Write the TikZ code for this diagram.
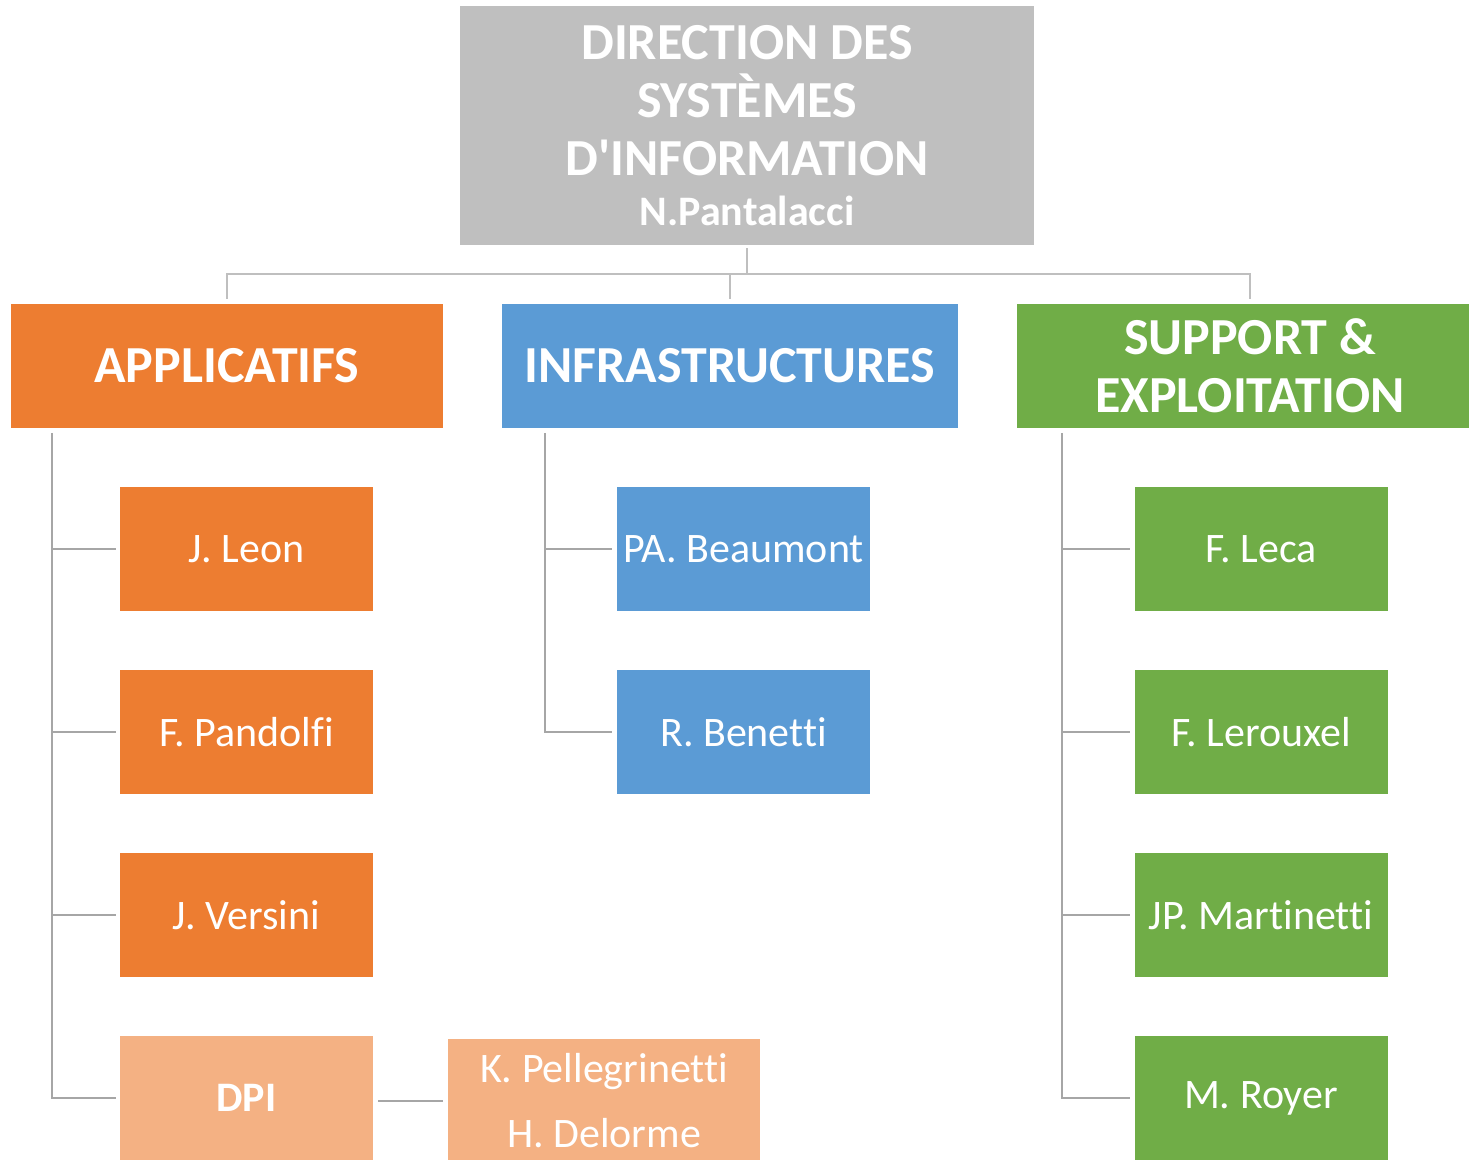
\documentclass[tikz,border=0pt]{standalone}
\usepackage{fontspec}
\setmainfont[Ligatures={TeX,NoCommon}]{Carlito}
\usetikzlibrary{positioning}
\definecolor{dsigray}{HTML}{BFBFBF}
\definecolor{apporange}{HTML}{ED7D31}
\definecolor{dpiorange}{HTML}{F4B183}
\definecolor{infrablue}{HTML}{5B9BD5}
\definecolor{supgreen}{HTML}{70AD47}
\definecolor{linkgray}{HTML}{A6A6A6}
\newcommand{\headfont}{\bfseries\fontsize{26}{29}\selectfont}
\newcommand{\namefont}{\fontsize{21}{25}\selectfont}

\begin{document}
\begin{tikzpicture}[x=0.5pt,y=-0.5pt,
	box/.style={fill=#1, text=white, inner sep=0pt, align=center},
	head/.style={box=#1, minimum height=62pt, font=\headfont},
	person/.style={box=#1, minimum width=126.5pt, minimum height=62pt, font=\namefont},
	topline/.style={draw=dsigray, line width=0.7pt},
	stem/.style={draw=linkgray, line width=1.1pt}]
\useasboundingbox (0,0) rectangle (1469,1160);
% direction
\node[box=dsigray, minimum width=287pt, minimum height=119.5pt, font=\headfont] (dsi) at (747,125.5)
	{DIRECTION DES\\SYSTÈMES\\D\textquotesingle INFORMATION\\[-4pt]{\namefont\bfseries N.Pantalacci}};
% poles
\node[head=apporange, minimum width=216pt] (app) at (227,366) {APPLICATIFS};
\node[head=infrablue, minimum width=228pt] (infra) at (730,366) {INFRASTRUCTURES};
\node[head=supgreen, minimum width=233pt] (sup) at (1250,366) {SUPPORT \&\\EXPLOITATION};
\coordinate (bus) at (747,274);
\draw[topline, shorten <=1.5pt] (dsi.south) -- (bus);
\draw[topline, shorten <=2.5pt] (app.north) |- (bus);
\draw[topline, shorten <=2.5pt] (sup.north) |- (bus);
\draw[topline, shorten <=2.5pt] (infra.north) -- (infra.north |- bus);
% applicatifs
\coordinate (appstem) at (52,433);
\foreach \name/\who/\y in {leon/J. Leon/549, pandolfi/F. Pandolfi/732, versini/J. Versini/915}{
	\node[person=apporange] (\name) at (246.5,\y) {\who};
	\draw[stem, shorten >=2pt] (appstem |- \name.west) -- (\name.west);
}
\node[person=dpiorange, font=\namefont\bfseries] (dpi) at (246.5,1098) {DPI};
\draw[stem, shorten >=2pt] (appstem) |- (dpi.west);
\node[box=dpiorange, minimum width=156pt, minimum height=62pt, font=\fontsize{21}{32.5}\selectfont] (dpiteam) at (604,1101)
	{K. Pellegrinetti\\H. Delorme};
\draw[stem, shorten <=2.5pt, shorten >=2.5pt] (dpi.east |- dpiteam.west) -- (dpiteam.west);
% infrastructures
\coordinate (infrastem) at (545,433);
\foreach \name/\who/\y in {beaumont/PA. Beaumont/549, benetti/R. Benetti/732}{
	\node[person=infrablue] (\name) at (743.5,\y) {\who};
}
\draw[stem, shorten >=2.5pt] (infrastem) |- (benetti.west);
\draw[stem, shorten >=2.5pt] (infrastem |- beaumont.west) -- (beaumont.west);
% support et exploitation
\coordinate (supstem) at (1062,433);
\foreach \name/\who/\y in {leca/F. Leca/549, lerouxel/F. Lerouxel/732, martinetti/JP. Martinetti/915}{
	\node[person=supgreen] (\name) at (1261,\y) {\who};
	\draw[stem, shorten >=2pt] (supstem |- \name.west) -- (\name.west);
}
\node[person=supgreen] (royer) at (1261,1098) {M. Royer};
\draw[stem, shorten >=2pt] (supstem) |- (royer.west);
\end{tikzpicture}
\end{document}
